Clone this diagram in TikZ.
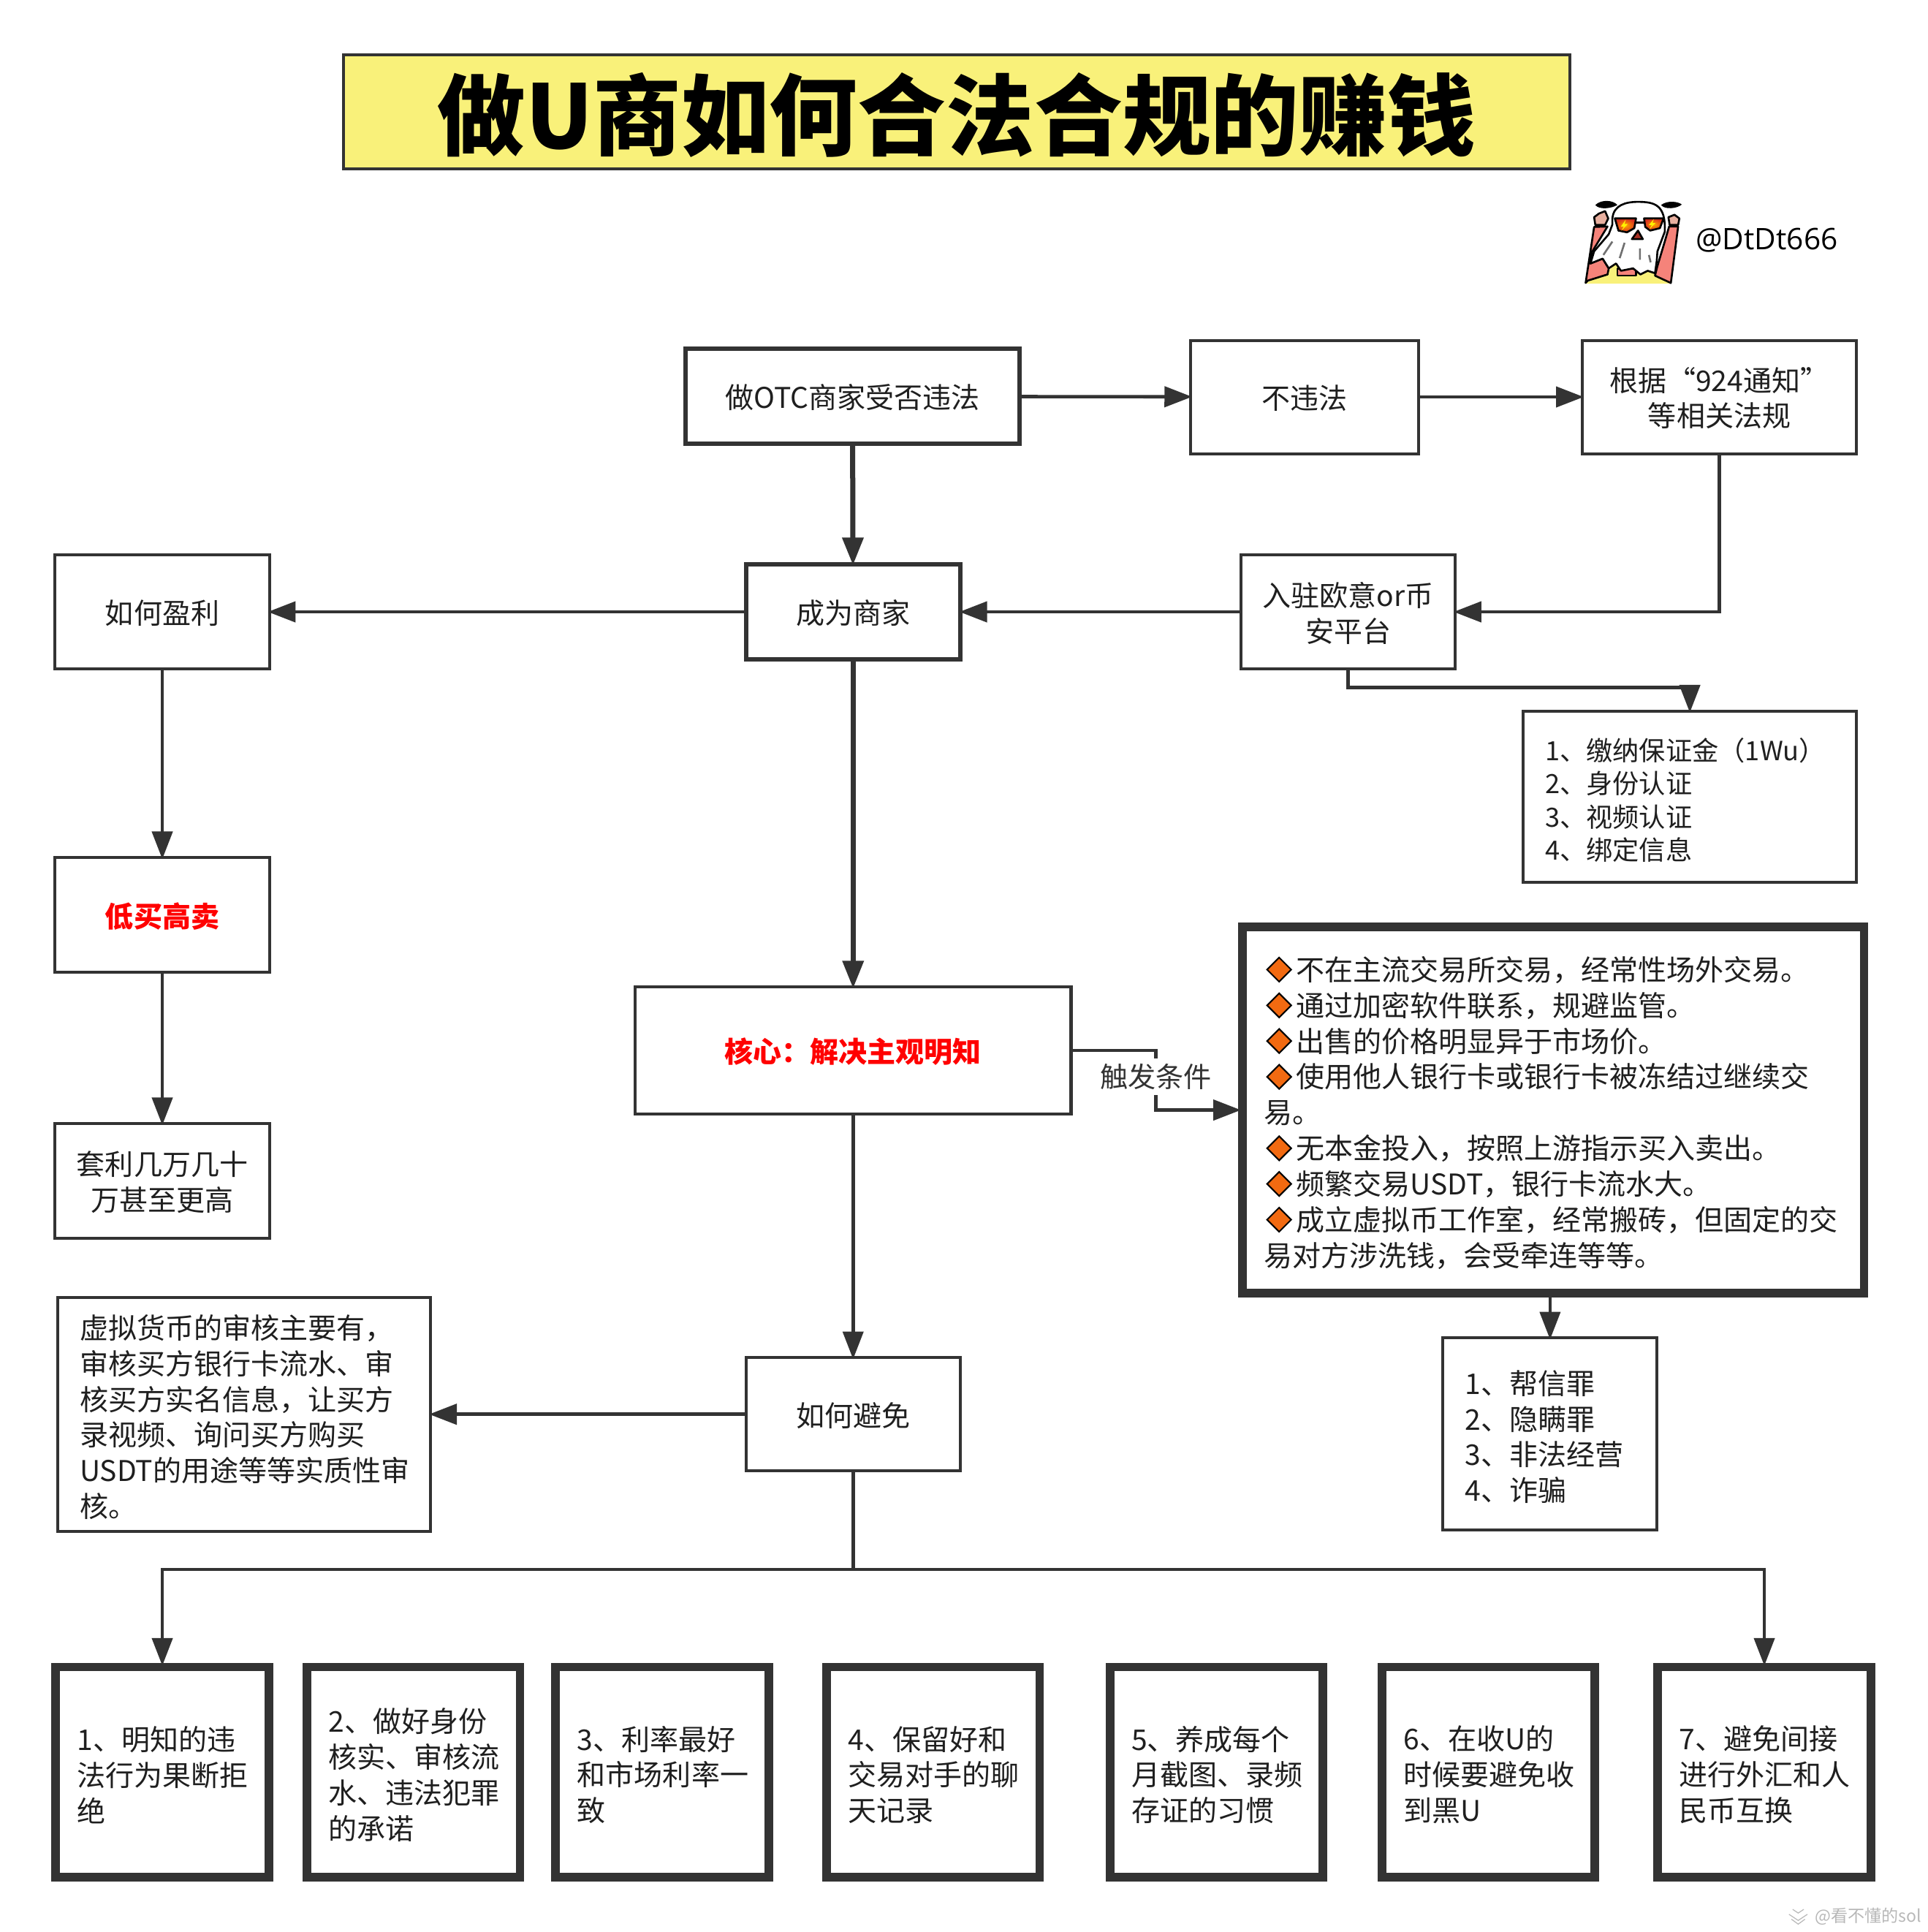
\documentclass[tikz,border=0pt]{standalone}
\usepackage{fontspec}
\setmainfont{Noto Sans CJK SC}
\newfontfamily\titlefont{Noto Sans CJK SC Black}
\newfontfamily\handlefont{Open Sans}
\usetikzlibrary{arrows.meta,shapes.geometric}
\definecolor{ink}{HTML}{333333}
\definecolor{titlefill}{HTML}{F9F17A}
\definecolor{flagorange}{HTML}{F26A11}
\definecolor{sleeve}{HTML}{F5837A}
\definecolor{skin}{HTML}{E8B0A0}
\definecolor{lens}{HTML}{D9301F}
\tikzset{
  sized/.style 2 args={minimum width=#1*0.16915mm, minimum height=#2*0.16915mm},
  box/.style={draw=ink, line width=1.15pt, inner sep=0pt, text=black!88,
    font=\fontsize{11.15}{13.95}\selectfont, align=center},
  midbox/.style={box, text depth=-1pt},
  heavybox/.style={midbox, line width=1.75pt},
  thickbox/.style={box, line width=3.4pt},
  listbox/.style={align=left, text width=#1*0.16915mm, text height=11.6pt},
  flow/.style={draw=ink, line width=1.3pt, shorten >=-1.2pt, -{Triangle[length=3.8mm,width=2.8mm]}},
  heavyflow/.style={flow, line width=2pt},
  flag/.style={diamond, draw=black, line width=.6pt, fill=flagorange, inner sep=0pt, minimum size=3.4mm}
}
\begin{document}
\begin{tikzpicture}[x=0.16915mm, y=-0.16915mm]
  \useasboundingbox (-0.8,-0.3) rectangle (1564.4,1568.4);

  %Title
  \node[draw=ink, line width=1.1pt, fill=titlefill, sized={996}{93}, inner sep=0pt, text depth=.8pt,
    font=\fontsize{34.5}{40}\titlefont] (title) at (776,90.5) {做U商如何合法合规的赚钱};

  %Top row
  \node[heavybox, sized={271}{77}] (otc) at (691.5,321.5) {做OTC商家受否违法};
  \node[midbox, sized={185}{92}] (legal) at (1058.5,322) {不违法};
  \node[midbox, sized={223}{92}] (notice) at (1395.5,322) {根据“924通知”\\等相关法规};

  %Second row
  \node[heavybox, sized={174}{77}] (merchant) at (692,496.5) {成为商家};
  \node[midbox, sized={174}{93}] (profit) at (131,496.5) {如何盈利};
  \node[midbox, sized={174}{93}] (platform) at (1094,496.5) {入驻欧意or币\\安平台};
  \node[box, listbox=235, sized={271}{139}, font=\fontsize{10.35}{12.95}\selectfont] (steps) at (1371.5,646.5)
    {1、缴纳保证金（1Wu）\\2、身份认证\\3、视频认证\\4、绑定信息};

  %Left column
  \node[midbox, sized={174}{93}, text=red, font=\fontsize{11.15}{13.95}\selectfont\bfseries] (trade) at (131,742.5) {低买高卖};
  \node[midbox, sized={174}{93}] (arb) at (131,958.5) {套利几万几十\\万甚至更高};
  \node[box, listbox=267, sized={303}{190}] (audit) at (197.5,1148)
    {虚拟货币的审核主要有，\\审核买方银行卡流水、审\\核买方实名信息，让买方\\录视频、询问买方购买\\USDT的用途等等实质性审\\核。};

  %Centre column
  \node[midbox, sized={354}{103}, text=red, font=\fontsize{11.15}{13.95}\selectfont\bfseries] (core) at (692,852.5) {核心：解决主观明知};
  \node[midbox, sized={174}{92}] (avoid) at (692,1148) {如何避免};

  %Trigger list
  \node[thickbox, listbox=470, sized={505}{297}] (signs) at (1260.5,901)
    {\hspace*{1.13em}不在主流交易所交易，经常性场外交易。\\
     \hspace*{1.13em}通过加密软件联系，规避监管。\\
     \hspace*{1.13em}出售的价格明显异于市场价。\\
     \hspace*{1.13em}使用他人银行卡或银行卡被冻结过继续交\\
     易。\\
     \hspace*{1.13em}无本金投入，按照上游指示买入卖出。\\
     \hspace*{1.13em}频繁交易USDT，银行卡流水大。\\
     \hspace*{1.13em}成立虚拟币工作室，经常搬砖，但固定的交\\
     易对方涉洗钱，会受牵连等等。};
  \foreach \y [count=\i] in {787,816,845,874,932,961,990}
    \node[flag] (flag\i) at (1038,\y) {};
  \node[box, listbox=138, sized={174}{156}] (crimes) at (1258,1164)
    {1、帮信罪\\2、隐瞒罪\\3、非法经营\\4、诈骗};

  %Bottom row
  \foreach \i/\cx/\txt in {
    1/131/{1、明知的违\\法行为果断拒\\绝},
    2/335/{2、做好身份\\核实、审核流\\水、违法犯罪\\的承诺},
    3/537/{3、利率最好\\和市场利率一\\致},
    4/757/{4、保留好和\\交易对手的聊\\天记录},
    5/987/{5、养成每个\\月截图、录频\\存证的习惯},
    6/1208/{6、在收U的\\时候要避免收\\到黑U},
    7/1432/{7、避免间接\\进行外汇和人\\民币互换}}
    \node[thickbox, listbox=138, sized={173}{170.5}] (tip\i) at (\cx,1438.5) {\txt};

  %Connectors
  \draw[flow] (otc) -- (legal);
  \draw[flow] (legal) -- (notice);
  \draw[flow] (notice.south) |- (platform.east);
  \draw[flow] (platform) -- (merchant);
  \draw[heavyflow] (otc) -- (merchant);
  \draw[flow] (merchant) -- (profit);
  \draw[flow] (profit) -- (trade);
  \draw[flow] (trade) -- (arb);
  \draw[heavyflow] (merchant) -- (core);
  \draw[flow] (core) -- (avoid);
  \draw[flow] (avoid) -- (audit);
  \draw[flow] (signs.south -| crimes.north) -- (crimes.north);
  \coordinate (platdrop) at (1094,558);
  \draw[flow] (platform.south) -- (platdrop) -| (steps.north);
  \coordinate (bus) at (692,1274);
  \draw[flow] (avoid.south) -- (bus) -| (tip1.north);
  \draw[flow] (bus) -| (tip7.north);

  %Trigger connector
  \coordinate (bend) at (938,874);
  \draw[flow] (core.east) -| (bend) |- (signs.west);
  \node[fill=white, inner xsep=1pt, inner ysep=2.2pt, text=ink, font=\fontsize{10.9}{13.95}\selectfont] (triglabel) at (bend) {触发条件};

  %Handle
  \node[font=\fontsize{11.6}{14}\handlefont, text=black, inner sep=0pt] (handle) at (1434,195) {@DtDt666};

  %Avatar
  \begin{scope}[shift={(1246.3,136.5)}, scale=0.1978, line join=round, line width=.75pt]
    \fill[titlefill] (205,472) -- (300,420) -- (330,385) -- (500,420) -- (550,472) -- cycle;
    \draw[fill=sleeve] (205,470) -- (240,240) -- (295,238) -- (230,345) -- (225,390) -- (275,370) -- (300,410) -- (295,435) -- (215,460) -- cycle;
    \draw[fill=sleeve] (548,238) -- (585,238) -- (555,470) -- (490,440) -- (500,400) -- (530,300) -- cycle;
    \draw[fill=sleeve] (335,412) -- (412,412) -- (412,440) -- (335,440) -- cycle;
    \draw[fill=skin] (240,200) -- (260,185) -- (285,175) -- (298,205) -- (285,232) -- (245,232) -- cycle;
    \draw[fill=skin] (545,200) -- (570,190) -- (590,205) -- (585,232) -- (550,232) -- cycle;
    \fill[black] (245,150) .. controls (270,125) and (320,130) .. (335,150) .. controls (310,165) and (260,170) .. (245,150) -- cycle;
    \fill[black] (515,150) .. controls (540,130) and (585,135) .. (600,148) .. controls (580,165) and (530,170) .. (515,150) -- cycle;
    \draw[fill=white] (315,205) .. controls (320,150) and (370,137) .. (420,137) .. controls (490,137) and (535,150) .. (530,260)
      -- (500,340) -- (497,380) -- (490,430) -- (460,420) -- (430,435) -- (400,410) -- (350,420) -- (330,390) -- (300,410) -- (275,370) -- (225,390) -- (240,340) -- (300,270) -- (315,230) -- cycle;
    \draw[inner color=orange!70!yellow, outer color=lens] (325,205) -- (412,205) -- (405,245) -- (375,262) -- (340,255) -- cycle;
    \draw[inner color=orange!70!yellow, outer color=lens] (445,205) -- (525,205) -- (510,245) -- (470,255) -- (450,240) -- cycle;
    \fill[yellow] (370,210) -- (350,238) -- (362,238) -- (352,256) -- (378,228) -- (365,228) -- cycle;
    \fill[yellow] (485,208) -- (465,232) -- (477,232) -- (467,250) -- (492,224) -- (480,224) -- cycle;
    \draw (412,222) -- (445,222);
    \draw[fill=lens!70!ink] (395,290) -- (420,255) -- (440,290) -- cycle;
    \draw[ink!70] (315,300) -- (278,355) (365,305) -- (345,368) (428,328) -- (428,375) (465,355) -- (472,385);
  \end{scope}

  %Watermark
  \node[text=black!28, font=\fontsize{6.6}{8}\selectfont, inner sep=0pt, anchor=east] (mark) at (1560,1555.5) {@看不懂的sol};
  \draw[black!28, line width=.35pt] (1452,1554) -- (1459.5,1559) -- (1467,1554) (1455,1550) -- (1459.5,1553) -- (1464,1550) (1454,1558) -- (1459.5,1562) -- (1465,1558);
\end{tikzpicture}
\end{document}
